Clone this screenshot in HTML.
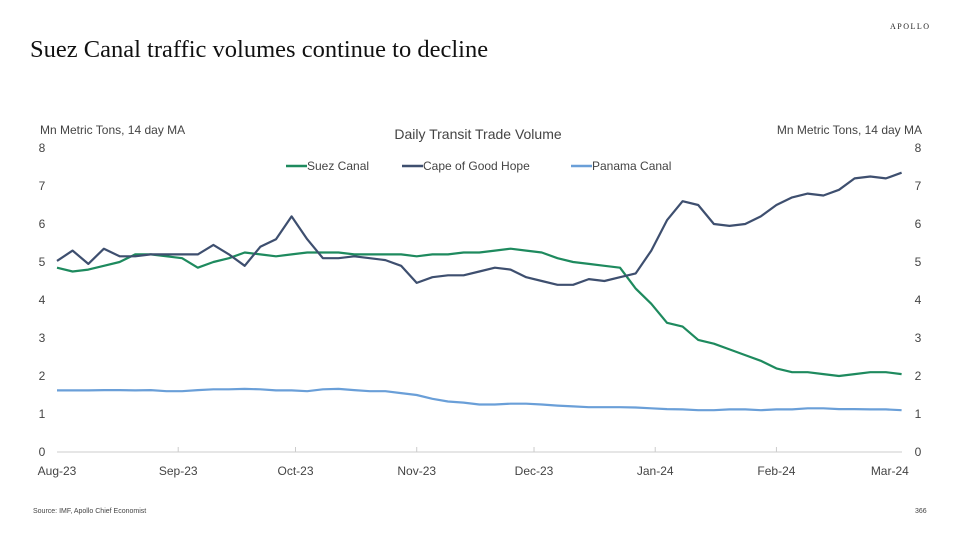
<!DOCTYPE html>
<html><head><meta charset="utf-8"><style>
body{margin:0;background:#fff;width:955px;height:534px;overflow:hidden}
svg{display:block;font-family:"Liberation Sans",sans-serif}
</style></head><body>
<svg id="chart" width="955" height="534">
<text x="890" y="29" font-family="Liberation Serif,serif" font-size="8" letter-spacing="1.5" fill="#222">APOLLO</text>
<text x="30" y="57" font-family="Liberation Serif,serif" font-size="24.5" fill="#111">Suez Canal traffic volumes continue to decline</text>
<text x="40" y="134" font-size="12" fill="#444">Mn Metric Tons, 14 day MA</text>
<text x="922" y="134" font-size="12" fill="#444" text-anchor="end">Mn Metric Tons, 14 day MA</text>
<text x="478" y="139" font-size="14" fill="#444" text-anchor="middle">Daily Transit Trade Volume</text>
<g>
<line x1="286" y1="166" x2="307" y2="166" stroke="#1e8a5e" stroke-width="2.5"/><text x="307" y="170" font-size="12" fill="#444">Suez Canal</text>
<line x1="402" y1="166" x2="423" y2="166" stroke="#3e4f6f" stroke-width="2.5"/><text x="423" y="170" font-size="12" fill="#444">Cape of Good Hope</text>
<line x1="571" y1="166" x2="592" y2="166" stroke="#6a9fd8" stroke-width="2.5"/><text x="592" y="170" font-size="12" fill="#444">Panama Canal</text>
</g>
<g id="axes"></g>
<g id="series"></g>
<text x="33" y="513" font-size="7" fill="#444">Source: IMF, Apollo Chief Economist</text>
<text x="915" y="513" font-size="7" fill="#444">366</text>
</svg>
<script>
const days=[0,4,8,12,16,20,24,28,32,36,40,44,48,52,56,60,64,68,72,76,80,84,88,92,96,100,104,108,112,116,120,124,128,132,136,140,144,148,152,156,160,164,168,172,176,180,184,188,192,196,200,204,208,212,216];
const suez=[4.85,4.75,4.8,4.9,5.0,5.2,5.2,5.15,5.1,4.85,5.0,5.1,5.25,5.2,5.15,5.2,5.25,5.25,5.25,5.2,5.2,5.2,5.2,5.15,5.2,5.2,5.25,5.25,5.3,5.35,5.3,5.25,5.1,5.0,4.95,4.9,4.85,4.3,3.9,3.4,3.3,2.95,2.85,2.7,2.55,2.4,2.2,2.1,2.1,2.05,2.0,2.05,2.1,2.1,2.05];
const cape=[5.03,5.3,4.95,5.35,5.15,5.15,5.2,5.2,5.2,5.2,5.45,5.2,4.9,5.4,5.6,6.2,5.6,5.1,5.1,5.15,5.1,5.05,4.9,4.45,4.6,4.65,4.65,4.75,4.85,4.8,4.6,4.5,4.4,4.4,4.55,4.5,4.6,4.7,5.3,6.1,6.6,6.5,6.0,5.95,6.0,6.2,6.5,6.7,6.8,6.75,6.9,7.2,7.25,7.2,7.35];
const panama=[1.62,1.62,1.62,1.63,1.63,1.62,1.63,1.6,1.6,1.63,1.65,1.65,1.66,1.65,1.62,1.62,1.6,1.65,1.66,1.63,1.6,1.6,1.55,1.5,1.4,1.33,1.3,1.25,1.25,1.27,1.27,1.25,1.22,1.2,1.18,1.18,1.18,1.17,1.15,1.13,1.12,1.1,1.1,1.12,1.12,1.1,1.12,1.12,1.15,1.15,1.13,1.13,1.12,1.12,1.1];
const monthLabels=["Aug-23","Sep-23","Oct-23","Nov-23","Dec-23","Jan-24","Feb-24","Mar-24"];
const monthDays=[0,31,61,92,122,153,184,213];
const yTicks=[0,1,2,3,4,5,6,7,8];
const NS="http://www.w3.org/2000/svg";
function xs(d){return 57+3.91*d;}
function ys(v){return 452-38*v;}
function mk(tag,attrs,parent){const e=document.createElementNS(NS,tag);for(const k in attrs)e.setAttribute(k,attrs[k]);parent.appendChild(e);return e;}
const ax=document.getElementById('axes');
const base=mk('line',{x1:57,x2:902,y1:452,y2:452,stroke:'#ccc','stroke-width':1},ax);


yTicks.forEach(v=>{
  const t=mk('text',{x:42,y:ys(v)+4,'font-size':12,fill:'#444','text-anchor':'middle'},ax);t.textContent=v;
  
  
  const r=mk('text',{x:918,y:ys(v)+4,'font-size':12,fill:'#444','text-anchor':'middle'},ax);r.textContent=v;
  
  
});
monthLabels.forEach((m,i)=>{
  const x=xs(monthDays[i]);
  if(i>0&&i<7){const tk=mk('line',{x1:x,x2:x,y1:447,y2:452,stroke:'#ccc'},ax);
  
  }
  const t=mk('text',{x:x,y:475,'font-size':12,fill:'#444','text-anchor':'middle'},ax);t.textContent=m;
  
  
});
const sg=document.getElementById('series');
[[panama,'#6a9fd8','panama-canal-line'],[suez,'#1e8a5e','suez-canal-line'],[cape,'#3e4f6f','cape-of-good-hope-line']].forEach(([vals,col,name])=>{
  const d=vals.map((v,i)=>(i?'L':'M')+xs(days[i]).toFixed(1)+','+ys(v).toFixed(1)).join('');
  const p=mk('path',{d:d,fill:'none',stroke:col,'stroke-width':2.2,'stroke-linejoin':'round'},sg);
  
  
});
</script>
</body></html>
